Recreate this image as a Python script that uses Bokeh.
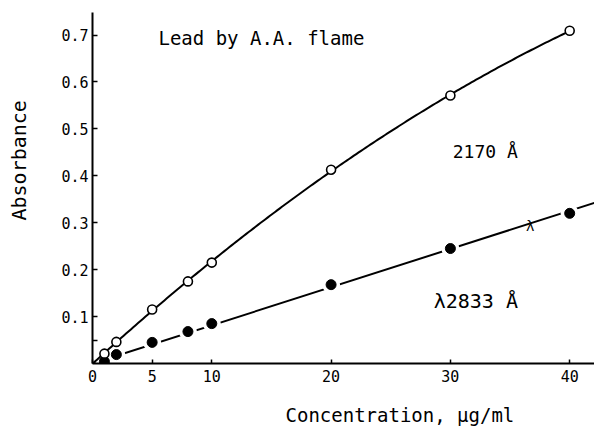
import numpy as np
from bokeh.plotting import figure
from bokeh.models import Range1d, FixedTicker, Label, Title, LinearAxis
from bokeh.embed import file_html
from bokeh.resources import INLINE

# ---- data ----
conc_2170 = [1, 2, 5, 8, 10, 20, 30, 40]
abs_2170 = [0.021, 0.046, 0.115, 0.175, 0.215, 0.413, 0.571, 0.709]
conc_2833 = [1, 2, 5, 8, 10, 20, 30, 40]
abs_2833 = [0.004, 0.019, 0.045, 0.068, 0.085, 0.168, 0.245, 0.320]
x_ticks = [0, 5, 10, 20, 30, 40]
y_ticks = [0.1, 0.2, 0.3, 0.4, 0.5, 0.6, 0.7]
y_minor = [0.05]

FONT = "DejaVu Sans Mono"
X_END = 42.08
Y_END = 0.748

p = figure(width=594, height=433, output_backend="svg", toolbar_location=None,
           x_range=Range1d(0, X_END), y_range=Range1d(0, Y_END),
           min_border_left=92, min_border_right=0, min_border_top=12, min_border_bottom=70)
p.outline_line_color = None
p.grid.visible = False
p.background_fill_color = "white"
p.border_fill_color = "white"

for ax in (p.xaxis[0], p.yaxis[0]):
    ax.axis_line_width = 2
    ax.axis_line_color = "black"
    ax.major_tick_line_width = 1.5
    ax.minor_tick_line_width = 1.5
    ax.major_tick_out = 0
    ax.minor_tick_out = 0
    ax.major_label_text_font = FONT
    ax.major_label_text_font_size = "15px"
    ax.major_label_text_color = "black"

p.xaxis[0].ticker = FixedTicker(ticks=x_ticks, minor_ticks=[])
p.xaxis[0].major_tick_in = 4
p.xaxis[0].minor_tick_in = 0
p.xaxis[0].major_label_standoff = 6
p.yaxis[0].ticker = FixedTicker(ticks=y_ticks, minor_ticks=y_minor)
p.yaxis[0].major_tick_in = 5
p.yaxis[0].minor_tick_in = 5
p.yaxis[0].major_label_standoff = 4

# ---- invisible spacer axes (one hidden tick, no label) to push the titles outward ----
def spacer(tick, gap):
    return LinearAxis(ticker=FixedTicker(ticks=[tick], minor_ticks=[]), axis_line_color=None,
                      major_tick_line_color=None, minor_tick_line_color=None,
                      major_tick_out=gap, major_tick_in=0, minor_tick_out=0, minor_tick_in=0,
                      major_label_standoff=0, major_label_overrides={tick: ""},
                      major_label_text_font_size="1px")

p.add_layout(spacer(x_ticks[3], 16), "below")
p.add_layout(spacer(y_ticks[3], 27), "left")

# ---- axis titles placed in the side panels ----
p.add_layout(Title(text="Concentration, μg/ml", align="left", offset=193, standoff=2,
                   text_font=FONT, text_font_size="19px", text_font_style="normal",
                   text_color="black"), "below")
p.add_layout(Title(text="Absorbance", align="left", offset=143, standoff=2,
                   text_font=FONT, text_font_size="20px", text_font_style="normal",
                   text_color="black"), "left")

# ---- 2833 series: least-squares line through origin ----
cx = np.array(conc_2833, dtype=float)
cy = np.array(abs_2833, dtype=float)
slope = float((cx * cy).sum() / (cx * cx).sum())
lx = np.array([0.0, X_END])
p.line(lx, slope * lx, line_color="black", line_width=2)
p.scatter(conc_2833, abs_2833, marker="circle", size=18, fill_color="white", line_color=None)
p.scatter(conc_2833, abs_2833, marker="circle", size=10, fill_color="black", line_color="black")

# ---- 2170 series: smooth cubic fit through origin and points ----
ox = np.array([0] + conc_2170, dtype=float)
oy = np.array([0] + abs_2170, dtype=float)
coef = np.polyfit(ox, oy, 3)
sx = np.linspace(0, max(conc_2170), 200)
p.line(sx, np.polyval(coef, sx), line_color="black", line_width=2)
p.scatter(conc_2170, abs_2170, marker="circle", size=9, fill_color="white",
          line_color="black", line_width=1.6)

# ---- texts inside the frame ----
def lab(x, y, text, size, align="left"):
    p.add_layout(Label(x=x, y=y, text=text, text_font=FONT, text_font_size=size,
                       text_align=align, text_baseline="alphabetic", text_color="black"))

lab(5.53, 0.693, "Lead by A.A. flame", "19px")
lab(30.2, 0.452, "2170 Å", "18px")
lab(28.6, 0.134, "λ2833 Å", "20px")
lab(36.7, 0.293, "λ", "14px", align="center")

open("out.html", "w").write(file_html(p, INLINE))
